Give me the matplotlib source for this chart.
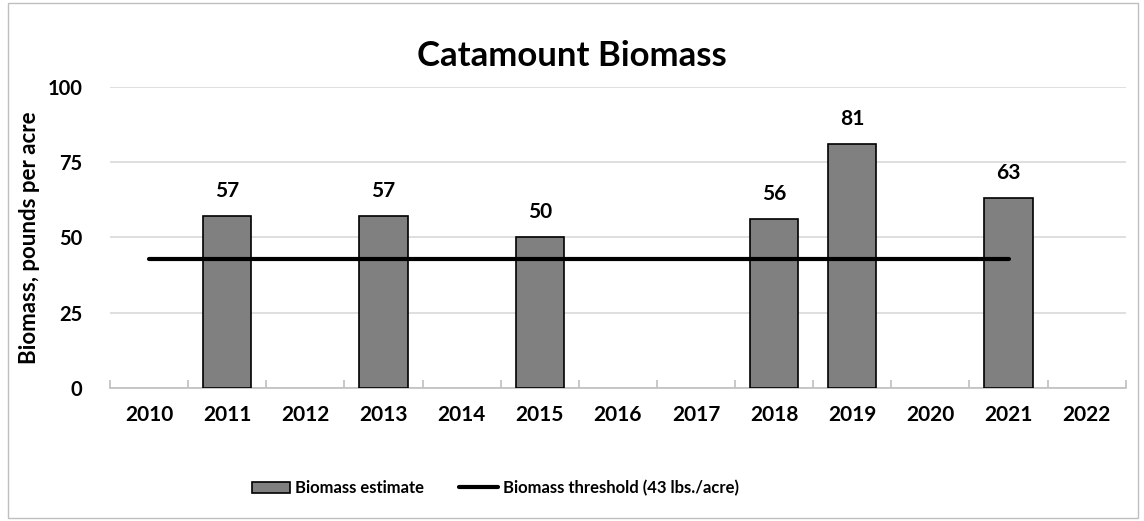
import matplotlib
matplotlib.use("Agg")
import matplotlib.pyplot as plt
from matplotlib.patches import Rectangle
import numpy as np

plt.rcParams['font.family'] = ['Lato', 'DejaVu Sans']
plt.rcParams['font.weight'] = 'bold'

years = ['2010', '2011', '2012', '2013', '2014', '2015', '2016', '2017',
         '2018', '2019', '2020', '2021', '2022']
biomass = [np.nan, 57, np.nan, 57, np.nan, 50, np.nan, np.nan, 56, 81, np.nan, 63, np.nan]
threshold = [43, 43, 43, 43, 43, 43, 43, 43, 43, 43, 43, 43, np.nan]

fig = plt.figure(figsize=(11.44, 5.21), dpi=100)
ax = fig.add_axes([0.0962, 0.2553, 0.8878, 0.5777])

x = np.arange(len(years))
bvals = np.array(biomass, dtype=float)
mask = ~np.isnan(bvals)
bars = ax.bar(x[mask], bvals[mask], width=0.62, color='#808080', edgecolor='black',
              linewidth=1.2, label='Biomass estimate', zorder=3)
for xi, v in zip(x[mask], bvals[mask]):
    ax.text(xi, v + 5, f"{int(v)}", ha='center', va='bottom', fontsize=15, fontweight='bold')
line, = ax.plot(x, threshold, color='black', linewidth=3, label='Biomass threshold (43 lbs./acre)',
                zorder=4, solid_capstyle='round')

ax.set_xlim(-0.5, len(years) - 0.5)
ax.set_ylim(0, 100)
ax.set_yticks([0, 25, 50, 75, 100])
ax.yaxis.grid(True, color='#d9d9d9', linewidth=1.2, zorder=0)
ax.set_axisbelow(True)
ax.set_xticks(x)
ax.set_xticklabels(years)
ax.set_xticks(np.arange(-0.5, len(years)), minor=True)
ax.tick_params(axis='x', which='major', length=0, pad=12, labelsize=15)
ax.tick_params(axis='x', which='minor', length=6, direction='in', color='#bfbfbf', width=1.2)
ax.tick_params(axis='y', length=0, pad=20, labelsize=14.5)
for lab in ax.get_xticklabels() + ax.get_yticklabels():
    lab.set_fontweight('bold')
for s in ['top', 'right', 'left']:
    ax.spines[s].set_visible(False)
ax.spines['bottom'].set_color('#bfbfbf')
ax.spines['bottom'].set_linewidth(1.2)

ax.set_ylabel('Biomass, pounds per acre', fontsize=16, fontweight='bold')
ax.yaxis.set_label_coords(-0.069, 0.5)
fig.text(0.5, 0.893, 'Catamount Biomass', ha='center', va='center', fontsize=25, fontweight='bold')

fig.legend(handles=[bars, line], loc='center', bbox_to_anchor=(0.433, 0.063), ncol=2, frameon=False,
           handlelength=2.3, handletextpad=0.3, columnspacing=2.1,
           prop={'weight': 'bold', 'size': 12})

fig.add_artist(Rectangle((0.007, 0.005), 0.988, 0.99, transform=fig.transFigure,
                         fill=False, edgecolor='#bfbfbf', linewidth=1))

fig.savefig('out.png', dpi=100)
